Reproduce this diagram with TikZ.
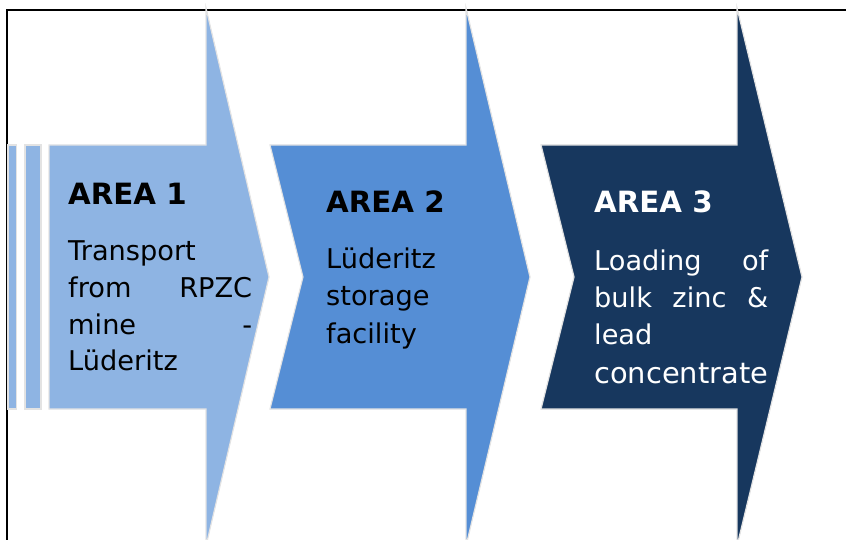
\documentclass[tikz,border=0pt]{standalone}
\usepackage{fontspec}
\setmainfont{DejaVu Sans}
\definecolor{arealight}{HTML}{8EB4E3}
\definecolor{areamid}{HTML}{558ED5}
\definecolor{areadark}{HTML}{17375E}
\begin{document}
\begin{tikzpicture}[x=1pt,y=-1pt,
  shapeedge/.style={draw=black!11, line width=1.2pt, line join=miter},
  heading/.style={anchor=base west, inner sep=0pt, font=\bfseries\fontsize{29.3}{34}\selectfont},
  bodytext/.style={anchor=base west, inner sep=0pt, font=\fontsize{27.2}{37}\selectfont},
]
\useasboundingbox (0,0) rectangle (846,540);
\clip (0,0) rectangle (846,540);

% frame lines
\draw[line width=2.6pt] (7,541) -- (7,10) -- (847,10);

% area 1: two thin bars and the first arrow
\fill[arealight, shapeedge] (8,145) rectangle (16.5,409);
\fill[arealight, shapeedge] (25,145) rectangle (41,409);
\fill[arealight, shapeedge] (49,145) -- (206,145) -- (206,8) -- (269,277)
  -- (206,546) -- (206,409) -- (49,409) -- cycle;

% area 2 chevron
\fill[areamid, shapeedge] (270,145) -- (466,145) -- (466,8) -- (530,277)
  -- (466,546) -- (466,409) -- (270,409) -- (303,277) -- cycle;

% area 3 chevron
\fill[areadark, shapeedge] (541,145) -- (737,145) -- (737,8) -- (802,277)
  -- (737,546) -- (737,409) -- (541,409) -- (574,277) -- cycle;

% texts
\node[heading] (h1) at (68,205) {AREA 1};
\node[bodytext] (b1) at (68,260) {\parbox[t]{184pt}{\fontsize{27.2}{37}\selectfont
  Transport\par
  \hbox to 184pt{from\hfill RPZC}
  \hbox to 184pt{mine\hfill -}
  Lüderitz\par}};

\node[heading] (h2) at (326,213) {AREA 2};
\node[bodytext] (b2) at (326,269) {\parbox[t]{180pt}{\fontsize{27.2}{37}\selectfont
  Lüderitz\par storage\par facility\par}};

\node[heading, text=white] (h3) at (594,213) {AREA 3};
\node[bodytext, text=white] (b3) at (594,270) {\parbox[t]{174pt}{\fontsize{27.2}{37}\selectfont
  \hbox to 174pt{Loading\hfill of}
  \hbox to 174pt{bulk\hfill zinc\hfill \&}
  lead\par
  {\fontsize{28.9}{39}\selectfont concentrate\par}}};
\end{tikzpicture}
\end{document}
